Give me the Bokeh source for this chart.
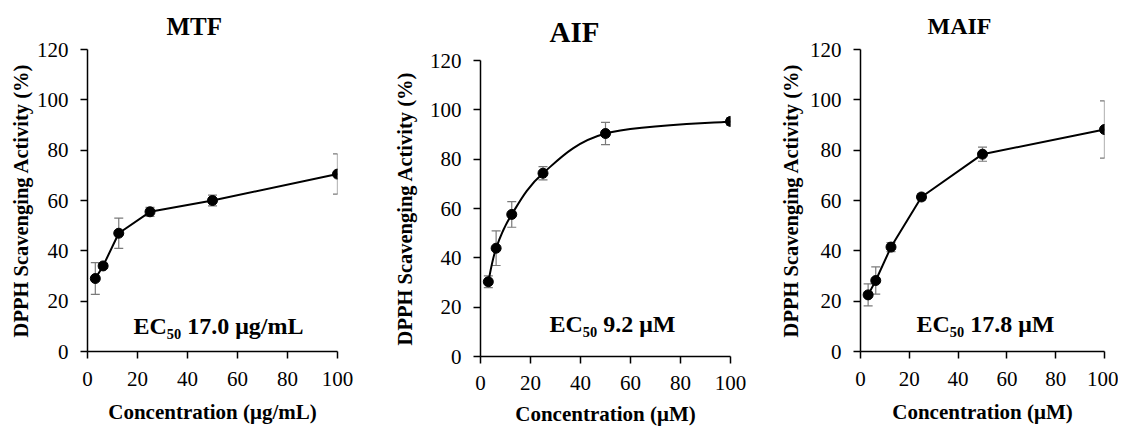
from bokeh.plotting import figure
from bokeh.layouts import row
from bokeh.models import ColumnDataSource, Whisker, TeeHead, Label, FixedTicker
from bokeh.embed import file_html
from bokeh.resources import INLINE

# ---- data ----
conc = [3.125, 6.25, 12.5, 25, 50, 100]
x_ticks = [0, 20, 40, 60, 80, 100]
y_ticks = [0, 20, 40, 60, 80, 100, 120]

mtf_mean = [29.0, 34.0, 47.0, 55.5, 60.0, 70.5]
mtf_sd = [6.3, 1.0, 6.0, 1.8, 2.1, 8.0]

aif_mean = [30.3, 43.9, 57.6, 74.3, 90.4, 95.3]
aif_sd = [2.4, 7.0, 5.2, 2.7, 4.5, 1.5]

maif_mean = [22.5, 28.2, 41.5, 61.4, 78.4, 88.2]
maif_sd = [4.4, 5.4, 1.8, 1.3, 2.8, 11.4]

titles = ["MTF", "AIF", "MAIF"]
x_labels = ["Concentration (\u03bcg/mL)", "Concentration (\u03bcM)", "Concentration (\u03bcM)"]
ec_texts = ["EC\u2085\u2080 17.0 \u03bcg/mL", "EC\u2085\u2080 9.2 \u03bcM", "EC\u2085\u2080 17.8 \u03bcM"]
y_label = "DPPH Scavenging Activity (%)"

FONT = "'Liberation Serif', serif"
ERR = "#7a7a7a"
H = 428


def bezier_parts(xs, ys):
    n = len(xs)
    out = dict(x0=[], y0=[], x1=[], y1=[], cx0=[], cy0=[], cx1=[], cy1=[])
    for i in range(n - 1):
        xm, ym = (xs[i - 1], ys[i - 1]) if i > 0 else (xs[i], ys[i])
        xp, yp = (xs[i + 2], ys[i + 2]) if i + 2 < n else (xs[i + 1], ys[i + 1])
        out["x0"].append(xs[i]); out["y0"].append(ys[i])
        out["x1"].append(xs[i + 1]); out["y1"].append(ys[i + 1])
        out["cx0"].append(xs[i] + (xs[i + 1] - xm) / 6)
        out["cy0"].append(ys[i] + (ys[i + 1] - ym) / 6)
        out["cx1"].append(xs[i + 1] - (xp - xs[i]) / 6)
        out["cy1"].append(ys[i + 1] - (yp - ys[i]) / 6)
    return out


def panel(title, mean, sd, xlabel, ec_text, width, bl, br, bt, bb, tsize, toff, tstand,
          ec_x, ec_y, ylab_stand, xlab_stand, xaxlab_stand, smooth=False):
    p = figure(width=width, height=H, x_range=(0, 100), y_range=(0, 120),
               output_backend="svg", toolbar_location=None,
               min_border_left=bl, min_border_right=br, min_border_top=bt, min_border_bottom=bb)
    try:
        p.frame_align = False
    except Exception:
        pass
    p.outline_line_color = None
    p.xgrid.visible = False
    p.ygrid.visible = False
    p.background_fill_color = "white"
    p.border_fill_color = "white"

    p.title.text = title
    p.title.align = "left"
    p.title.offset = toff
    p.title.standoff = tstand
    p.title.text_font = FONT
    p.title.text_font_style = "bold"
    p.title.text_font_size = tsize
    p.title.text_color = "black"

    for ax, ticks in ((p.xaxis[0], x_ticks), (p.yaxis[0], y_ticks)):
        ax.ticker = FixedTicker(ticks=ticks)
        ax.axis_line_width = 1.5
        ax.axis_line_color = "black"
        ax.major_tick_line_width = 1.5
        ax.major_tick_line_color = "black"
        ax.major_tick_in = 0
        ax.major_tick_out = 7
        ax.minor_tick_line_color = None
        ax.major_label_text_font = FONT
        ax.major_label_text_font_size = "21px"
        ax.major_label_text_color = "black"
        ax.axis_label_text_font = FONT
        ax.axis_label_text_font_style = "bold"
        ax.axis_label_text_color = "black"
    p.xaxis.axis_label = xlabel
    p.xaxis.axis_label_text_font_size = "21px"
    p.xaxis.major_label_standoff = xlab_stand
    p.xaxis.axis_label_standoff = xaxlab_stand
    p.yaxis.axis_label = y_label
    p.yaxis.axis_label_text_font_size = "20.5px"
    p.yaxis.major_label_standoff = 12
    p.yaxis.axis_label_standoff = ylab_stand

    upper = [m + s for m, s in zip(mean, sd)]
    lower = [m - s for m, s in zip(mean, sd)]
    src = ColumnDataSource(dict(x=conc, y=mean, upper=upper, lower=lower))
    w = Whisker(base="x", upper="upper", lower="lower", source=src,
                line_color=ERR, line_width=1.2,
                upper_head=TeeHead(size=9, line_color=ERR, line_width=1.2),
                lower_head=TeeHead(size=9, line_color=ERR, line_width=1.2))
    p.add_layout(w)

    if smooth:
        b = bezier_parts(conc, mean)
        p.bezier(x0=b["x0"], y0=b["y0"], x1=b["x1"], y1=b["y1"],
                 cx0=b["cx0"], cy0=b["cy0"], cx1=b["cx1"], cy1=b["cy1"],
                 line_color="black", line_width=2)
    else:
        p.line("x", "y", source=src, line_color="black", line_width=2)
    p.scatter("x", "y", source=src, size=10, marker="circle",
              fill_color="black", line_color="black")

    p.add_layout(Label(x=ec_x, y=ec_y, text=ec_text, text_align="center",
                       text_baseline="alphabetic", text_font=FONT,
                       text_font_style="bold", text_font_size="24px",
                       text_color="black"))
    return p


p1 = panel(titles[0], mtf_mean, mtf_sd, x_labels[0], ec_texts[0], 383, 87, 46, 49, H - 351,
           "25px", 79, 19, 52.4, 10.3, 2, 13, 11)
p2 = panel(titles[1], aif_mean, aif_sd, x_labels[1], ec_texts[1], 375, 97, 28, 59, H - 356,
           "29px", 69, 26, 52.8, 13.3, 11, 12, 9, smooth=True)
p3 = panel(titles[2], maif_mean, maif_sd, x_labels[2], ec_texts[2], 360, 102, 14, 49, H - 351,
           "24px", 67, 21, 51.2, 11.1, 5, 13, 11)

layout = row(p1, p2, p3, spacing=0)
open("out.html", "w").write(file_html(layout, INLINE))
